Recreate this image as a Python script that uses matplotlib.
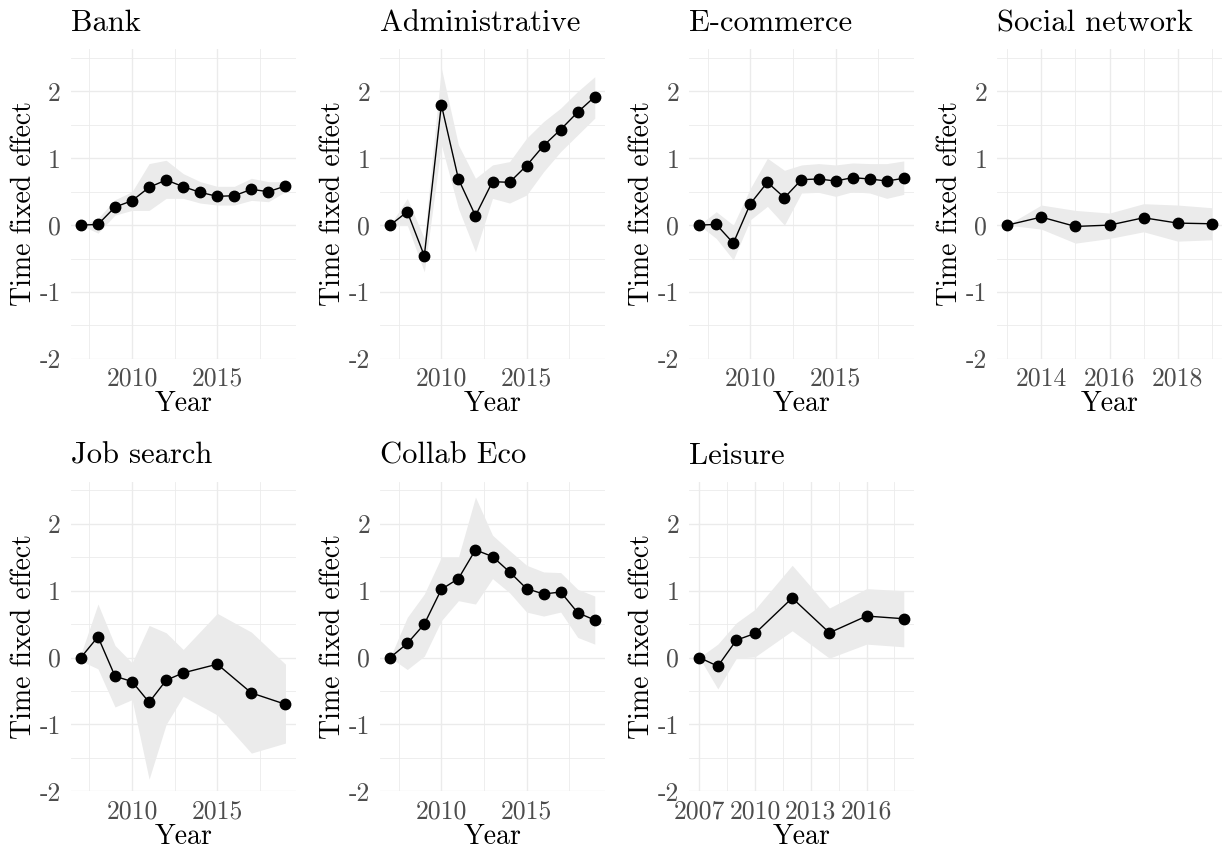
import matplotlib
matplotlib.use("Agg")
import matplotlib.pyplot as plt

plt.rcParams["font.family"] = ["cmr10", "DejaVu Serif"]
plt.rcParams["mathtext.fontset"] = "cm"
plt.rcParams["axes.unicode_minus"] = False
plt.rcParams["axes.formatter.use_mathtext"] = True

# --- data: time fixed effects with confidence band ---
bank_years = [2007, 2008, 2009, 2010, 2011, 2012, 2013, 2014, 2015, 2016, 2017, 2018, 2019]
bank_est = [0, 0.01, 0.27, 0.365, 0.565, 0.675, 0.575, 0.49, 0.43, 0.44, 0.535, 0.5, 0.585]
bank_lo = [0, -0.12, 0.15, 0.22, 0.22, 0.40, 0.40, 0.33, 0.30, 0.30, 0.37, 0.35, 0.50]
bank_hi = [0, 0.10, 0.38, 0.50, 0.92, 0.97, 0.77, 0.65, 0.58, 0.58, 0.70, 0.65, 0.65]

admin_years = [2007, 2008, 2009, 2010, 2011, 2012, 2013, 2014, 2015, 2016, 2017, 2018, 2019]
admin_est = [0, 0.2, -0.46, 1.8, 0.69, 0.14, 0.65, 0.64, 0.89, 1.19, 1.43, 1.69, 1.92]
admin_lo = [0, 0.0, -0.7, 1.2, 0.25, -0.4, 0.4, 0.33, 0.45, 0.8, 1.1, 1.35, 1.6]
admin_hi = [0, 0.4, -0.2, 2.35, 1.2, 0.7, 0.9, 0.95, 1.3, 1.55, 1.75, 2.0, 2.22]

ecom_years = [2007, 2008, 2009, 2010, 2011, 2012, 2013, 2014, 2015, 2016, 2017, 2018, 2019]
ecom_est = [0, 0.01, -0.27, 0.32, 0.64, 0.41, 0.68, 0.69, 0.66, 0.71, 0.69, 0.66, 0.7]
ecom_lo = [0, -0.2, -0.52, 0.08, 0.28, 0.0, 0.48, 0.49, 0.43, 0.5, 0.48, 0.4, 0.46]
ecom_hi = [0, 0.2, 0.0, 0.55, 1.0, 0.82, 0.9, 0.92, 0.9, 0.93, 0.92, 0.92, 0.96]

social_years = [2013, 2014, 2015, 2016, 2017, 2018, 2019]
social_est = [0, 0.12, -0.02, 0.0, 0.11, 0.03, 0.02]
social_lo = [0, -0.06, -0.27, -0.2, -0.1, -0.24, -0.22]
social_hi = [0, 0.3, 0.22, 0.18, 0.32, 0.3, 0.26]

job_years = [2007, 2008, 2009, 2010, 2011, 2012, 2013, 2015, 2017, 2019]
job_est = [0, 0.31, -0.28, -0.36, -0.67, -0.34, -0.23, -0.1, -0.53, -0.7]
job_lo = [-0.05, -0.17, -0.74, -0.63, -1.82, -1.0, -0.58, -0.86, -1.43, -1.28]
job_hi = [0.05, 0.8, 0.18, -0.08, 0.48, 0.37, 0.12, 0.66, 0.38, -0.1]

collab_years = [2007, 2008, 2009, 2010, 2011, 2012, 2013, 2014, 2015, 2016, 2017, 2018, 2019]
collab_est = [0, 0.21, 0.5, 1.02, 1.18, 1.61, 1.51, 1.28, 1.03, 0.95, 0.98, 0.67, 0.56]
collab_lo = [0, -0.18, 0.02, 0.55, 0.85, 0.8, 1.18, 0.97, 0.68, 0.62, 0.68, 0.3, 0.2]
collab_hi = [0, 0.6, 0.95, 1.5, 1.5, 2.4, 1.83, 1.6, 1.38, 1.28, 1.27, 1.02, 0.92]

leisure_years = [2007, 2008, 2009, 2010, 2012, 2014, 2016, 2018]
leisure_est = [0, -0.13, 0.26, 0.36, 0.89, 0.37, 0.62, 0.58]
leisure_lo = [0, -0.47, -0.01, 0.01, 0.4, -0.01, 0.2, 0.16]
leisure_hi = [0, 0.2, 0.52, 0.72, 1.38, 0.74, 1.03, 1.0]

panels = [
    ("Bank", bank_years, bank_est, bank_lo, bank_hi),
    ("Administrative", admin_years, admin_est, admin_lo, admin_hi),
    ("E-commerce", ecom_years, ecom_est, ecom_lo, ecom_hi),
    ("Social network", social_years, social_est, social_lo, social_hi),
    ("Job search", job_years, job_est, job_lo, job_hi),
    ("Collab Eco", collab_years, collab_est, collab_lo, collab_hi),
    ("Leisure", leisure_years, leisure_est, leisure_lo, leisure_hi),
]

W, H = 1225, 851
fig = plt.figure(figsize=(W / 100, H / 100), dpi=100)

col_left = [70.7, 380, 689, 997]
row_top = [49.3, 481.7]
pw, ph = 225, 309.5

grid_col = "#EBEBEB"
tick_col = "#4D4D4D"

for i, (name, yrs, est, lo, hi) in enumerate(panels):
    r, c = divmod(i, 4)
    left = col_left[c] / W
    bottom = 1 - (row_top[r] + ph) / H
    ax = fig.add_axes([left, bottom, pw / W, ph / H])

    ax.fill_between(yrs, lo, hi, color="#EBEBEB", lw=0, zorder=2)
    ax.plot(yrs, est, color="black", lw=1.0, zorder=3)
    ax.plot(yrs, est, "o", color="black", ms=7.5, zorder=4)

    span = yrs[-1] - yrs[0]
    ax.set_xlim(yrs[0] - 0.05 * span, yrs[-1] + 0.05 * span)
    ax.set_ylim(-2, 2.63)

    if name == "Social network":
        major_x, minor_x = [2014, 2016, 2018], [2013, 2015, 2017, 2019]
    elif name == "Leisure":
        major_x, minor_x = [2007, 2010, 2013, 2016], [2008.5, 2011.5, 2014.5, 2017.5]
    else:
        major_x, minor_x = [2010, 2015], [2007.5, 2012.5, 2017.5]
    ax.set_xticks(major_x)
    ax.set_xticklabels([str(x) for x in major_x])
    ax.set_xticks(minor_x, minor=True)
    ax.set_yticks([-2, -1, 0, 1, 2])
    ax.set_yticklabels(["-2", "-1", "0", "1", "2"])
    ax.set_yticks([-1.5, -0.5, 0.5, 1.5, 2.5], minor=True)

    ax.grid(True, which="major", color=grid_col, lw=1.0, zorder=0)
    ax.grid(True, which="minor", color=grid_col, lw=0.6, zorder=0)
    ax.set_axisbelow(True)
    for s in ax.spines.values():
        s.set_visible(False)
    ax.tick_params(which="both", length=0, labelsize=18.5, colors=tick_col)
    ax.tick_params(axis="x", pad=6)
    ax.tick_params(axis="y", pad=7)

    ax.set_xlabel("Year", fontsize=20, labelpad=0)
    ax.set_ylabel("Time fixed effect", fontsize=20, labelpad=2)
    ax.set_title(name, fontsize=22, loc="left", pad=13)

fig.savefig("out.png", dpi=100)
